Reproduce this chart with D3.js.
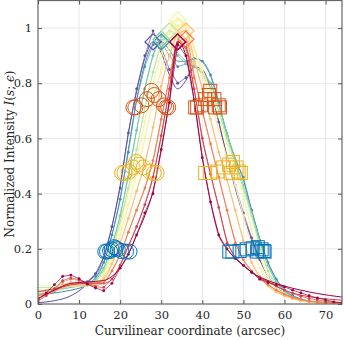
<!DOCTYPE html>
<html>
<head>
<meta charset="utf-8">
<script src="https://cdn.jsdelivr.net/npm/d3@7"></script>
<style>
  body { margin: 0; background: #fff; }
  svg { display: block; font-family: "DejaVu Serif", "Liberation Serif", serif; }
</style>
</head>
<body>
<svg id="chart"></svg>
<script>
// sample positions (arcsec) of the measured profiles
const dataX = [0, 2, 4, 6, 8, 10, 12, 14, 16, 18, 20, 22, 24, 26, 28, 30, 32, 34, 36,
  38, 40, 42, 44, 46, 48, 50, 52, 54, 56, 58, 60, 62, 64, 66, 68, 70, 72, 74]
// positions of the fitted profiles
const fitX = [0, 4, 8, 12, 16, 18, 20, 22, 24, 26, 28, 30, 32, 34, 36, 38, 40, 42,
  44, 46, 48, 50, 52, 56, 60, 64, 68, 74]

// measured profiles, first = earliest (purple) ... last = latest (dark red)
const profiles = [
  [0.03, 0.035, 0.045, 0.06, 0.065, 0.07, 0.08, 0.11, 0.17, 0.28, 0.42, 0.62, 0.78, 0.9, 0.99, 0.93, 0.85, 0.8, 0.82,
    0.86, 0.84, 0.78, 0.66, 0.53, 0.43, 0.33, 0.24, 0.16, 0.1, 0.06, 0.035, 0.02, 0.012, 0.008, 0.005, 0.004, 0.003, 0.002],
  [0.035, 0.04, 0.05, 0.06, 0.07, 0.075, 0.08, 0.1, 0.15, 0.25, 0.38, 0.55, 0.74, 0.86, 0.94, 0.95, 0.9, 0.86, 0.87,
    0.89, 0.88, 0.83, 0.73, 0.61, 0.52, 0.46, 0.34, 0.23, 0.15, 0.09, 0.05, 0.03, 0.018, 0.01, 0.006, 0.004, 0.003, 0.002],
  [0.04, 0.045, 0.055, 0.07, 0.075, 0.072, 0.075, 0.09, 0.13, 0.21, 0.32, 0.46, 0.63, 0.78, 0.9, 0.97, 0.95, 0.9, 0.87,
    0.86, 0.84, 0.8, 0.72, 0.62, 0.52, 0.43, 0.33, 0.22, 0.14, 0.08, 0.045, 0.025, 0.015, 0.009, 0.006, 0.004, 0.003, 0.002],
  [0.05, 0.05, 0.055, 0.065, 0.07, 0.07, 0.07, 0.08, 0.12, 0.2, 0.3, 0.42, 0.56, 0.71, 0.84, 0.94, 0.99, 0.97, 0.92,
    0.87, 0.83, 0.78, 0.7, 0.6, 0.51, 0.42, 0.32, 0.2, 0.12, 0.07, 0.04, 0.022, 0.013, 0.008, 0.005, 0.004, 0.003, 0.002],
  [0.04, 0.045, 0.055, 0.065, 0.07, 0.068, 0.068, 0.075, 0.11, 0.18, 0.28, 0.4, 0.52, 0.66, 0.8, 0.9, 0.98, 1.03, 1.0,
    0.93, 0.85, 0.77, 0.68, 0.58, 0.49, 0.39, 0.27, 0.17, 0.1, 0.06, 0.035, 0.02, 0.012, 0.007, 0.005, 0.003, 0.002, 0.002],
  [0.03, 0.035, 0.05, 0.065, 0.072, 0.07, 0.066, 0.07, 0.1, 0.16, 0.25, 0.36, 0.47, 0.6, 0.74, 0.85, 0.94, 1.01, 1.01,
    0.92, 0.83, 0.74, 0.63, 0.53, 0.43, 0.32, 0.21, 0.13, 0.08, 0.05, 0.03, 0.018, 0.011, 0.007, 0.005, 0.003, 0.002, 0.002],
  [0.02, 0.03, 0.05, 0.07, 0.078, 0.075, 0.068, 0.065, 0.09, 0.145, 0.22, 0.31, 0.41, 0.5, 0.64, 0.79, 0.9, 0.98, 0.99,
    0.88, 0.78, 0.67, 0.55, 0.45, 0.34, 0.23, 0.15, 0.1, 0.065, 0.045, 0.03, 0.02, 0.013, 0.008, 0.005, 0.004, 0.003, 0.002],
  [0.02, 0.035, 0.055, 0.08, 0.09, 0.085, 0.075, 0.065, 0.075, 0.12, 0.18, 0.26, 0.34, 0.42, 0.52, 0.67, 0.82, 0.95, 0.95,
    0.82, 0.7, 0.58, 0.46, 0.34, 0.22, 0.16, 0.12, 0.09, 0.07, 0.05, 0.035, 0.024, 0.016, 0.01, 0.007, 0.005, 0.004, 0.003],
  [0.01, 0.03, 0.055, 0.085, 0.095, 0.088, 0.075, 0.062, 0.06, 0.09, 0.14, 0.21, 0.28, 0.36, 0.46, 0.61, 0.78, 0.94, 0.93,
    0.78, 0.6, 0.47, 0.35, 0.22, 0.17, 0.14, 0.115, 0.095, 0.08, 0.065, 0.05, 0.038, 0.028, 0.02, 0.015, 0.01, 0.007, 0.005],
  [0.015, 0.04, 0.07, 0.1, 0.105, 0.092, 0.072, 0.058, 0.048, 0.075, 0.13, 0.18, 0.25, 0.33, 0.4, 0.56, 0.73, 0.94, 0.9,
    0.74, 0.53, 0.37, 0.25, 0.2, 0.165, 0.14, 0.115, 0.09, 0.078, 0.07, 0.062, 0.05, 0.04, 0.03, 0.022, 0.015, 0.008, 0.004]
]

// fitted profiles, same order
const fits = [
  [0.005, 0.012, 0.03, 0.075, 0.17, 0.28, 0.43, 0.62, 0.77, 0.89, 0.95, 0.91, 0.83, 0.78, 0.81, 0.86, 0.85, 0.78,
    0.66, 0.535, 0.42, 0.32, 0.235, 0.1, 0.035, 0.012, 0.005, 0.002],
  [0.03, 0.04, 0.05, 0.07, 0.15, 0.25, 0.38, 0.56, 0.74, 0.87, 0.94, 0.95, 0.92, 0.88, 0.88, 0.89, 0.88, 0.83,
    0.73, 0.615, 0.53, 0.45, 0.34, 0.15, 0.05, 0.018, 0.007, 0.003],
  [0.045, 0.05, 0.06, 0.07, 0.13, 0.21, 0.32, 0.47, 0.63, 0.78, 0.9, 0.96, 0.95, 0.91, 0.88, 0.86, 0.84, 0.8,
    0.72, 0.62, 0.52, 0.425, 0.33, 0.14, 0.045, 0.015, 0.006, 0.003],
  [0.06, 0.06, 0.065, 0.07, 0.12, 0.2, 0.3, 0.42, 0.56, 0.71, 0.84, 0.94, 0.99, 0.97, 0.92, 0.87, 0.83, 0.78,
    0.7, 0.6, 0.51, 0.42, 0.32, 0.12, 0.04, 0.013, 0.005, 0.002],
  [0.07, 0.065, 0.065, 0.068, 0.11, 0.18, 0.28, 0.4, 0.52, 0.66, 0.8, 0.91, 0.99, 1.03, 1.0, 0.93, 0.85, 0.77,
    0.68, 0.58, 0.49, 0.39, 0.27, 0.1, 0.035, 0.012, 0.005, 0.002],
  [0.05, 0.055, 0.065, 0.066, 0.1, 0.16, 0.25, 0.36, 0.47, 0.6, 0.74, 0.85, 0.94, 1.01, 1.01, 0.93, 0.83, 0.74,
    0.63, 0.53, 0.43, 0.32, 0.21, 0.08, 0.03, 0.011, 0.005, 0.002],
  [0.03, 0.045, 0.065, 0.068, 0.09, 0.145, 0.22, 0.31, 0.41, 0.51, 0.64, 0.79, 0.9, 0.98, 0.99, 0.89, 0.78, 0.67,
    0.55, 0.45, 0.34, 0.23, 0.15, 0.065, 0.03, 0.013, 0.006, 0.003],
  [0.03, 0.05, 0.07, 0.075, 0.08, 0.12, 0.18, 0.26, 0.34, 0.42, 0.52, 0.67, 0.82, 0.95, 0.96, 0.83, 0.7, 0.58,
    0.46, 0.34, 0.23, 0.16, 0.12, 0.07, 0.035, 0.016, 0.008, 0.004],
  [0.045, 0.055, 0.07, 0.075, 0.075, 0.09, 0.14, 0.21, 0.28, 0.36, 0.46, 0.61, 0.78, 0.95, 0.93, 0.78, 0.6, 0.47,
    0.35, 0.23, 0.17, 0.14, 0.115, 0.08, 0.05, 0.032, 0.022, 0.014],
  [0.02, 0.05, 0.075, 0.08, 0.085, 0.1, 0.13, 0.18, 0.25, 0.32, 0.41, 0.56, 0.74, 0.95, 0.9, 0.74, 0.53, 0.37,
    0.25, 0.2, 0.165, 0.14, 0.115, 0.085, 0.065, 0.05, 0.038, 0.025]
]

// fractions of the peak that get a marker, and their colours
const levels = [0.2, 0.5, 0.75]
const levelColors = ["#0072BD", "#EDB120", "#D95319"]

const xTicks = [0, 10, 20, 30, 40, 50, 60, 70]
const yTicks = [0, 0.2, 0.4, 0.6, 0.8, 1]

let chart = d3.select("#chart").attr("width", 344).attr("height", 340)

let x = d3.scaleLinear().domain([0, 74]).range([38, 342])
let y = d3.scaleLinear().domain([0, 1.1]).range([304, 0.5])
let colors = d3.quantize(d3.interpolateSpectral, profiles.length).reverse()

// grid
chart.append("g").selectAll("line").data(xTicks.slice(1)).join("line")
  .attr("x1", d => x(d)).attr("x2", d => x(d))
  .attr("y1", y(0)).attr("y2", y(1.1))
  .attr("stroke", "#e8e8e8")
chart.append("g").selectAll("line").data(yTicks.slice(1)).join("line")
  .attr("x1", x(0)).attr("x2", x(74))
  .attr("y1", d => y(d)).attr("y2", d => y(d))
  .attr("stroke", "#e8e8e8")

chart.append("clipPath").attr("id", "plotArea")
  .append("rect")
  .attr("x", x(0)).attr("y", y(1.1))
  .attr("width", x(74) - x(0)).attr("height", y(0) - y(1.1))

let plot = chart.append("g").attr("clip-path", "url(#plotArea)")

let dataLine = d3.line().x((d, i) => x(dataX[i])).y(d => y(d))
let fitLine = d3.line().x((d, i) => x(fitX[i])).y(d => y(d)).curve(d3.curveMonotoneX)

// profiles: fit, measured line and dots
profiles.forEach((p, s) => {
  let g = plot.append("g")
  g.append("path")
    .attr("d", fitLine(fits[s]))
    .attr("fill", "none")
    .attr("stroke", colors[s])
    .attr("stroke-width", 1)
  g.append("path")
    .attr("d", dataLine(p))
    .attr("fill", "none")
    .attr("stroke", colors[s])
    .attr("stroke-width", 0.7)
  g.selectAll("circle").data(p).join("circle")
    .attr("cx", (d, i) => x(dataX[i]))
    .attr("cy", d => y(d))
    .attr("r", 1.4)
    .attr("fill", colors[s])
})

// peak and level crossings of a fitted profile
function crossings(fit) {
  let iPeak = d3.maxIndex(fit)
  let peak = fit[iPeak]
  let marks = levels.map((f, k) => {
    let level = f * peak
    let i = iPeak
    while (i > 0 && fit[i - 1] >= level) i--
    let xl = fitX[i - 1] + (level - fit[i - 1]) / (fit[i] - fit[i - 1]) * (fitX[i] - fitX[i - 1])
    let j = iPeak
    while (j < fit.length - 1 && fit[j + 1] >= level) j++
    let xr = fitX[j] + (fit[j] - level) / (fit[j] - fit[j + 1]) * (fitX[j + 1] - fitX[j])
    return { k, level, xl, xr }
  })
  return { xPeak: fitX[iPeak], peak, marks }
}

let markers = chart.append("g").attr("fill", "none").attr("stroke-width", 1)
fits.forEach((fit, s) => {
  let c = crossings(fit)
  c.marks.forEach(m => {
    markers.append("circle")
      .attr("cx", x(m.xl)).attr("cy", y(m.level))
      .attr("r", 7.5)
      .attr("stroke", levelColors[m.k])
    markers.append("rect")
      .attr("x", x(m.xr) - 6.5).attr("y", y(m.level) - 6.5)
      .attr("width", 13).attr("height", 13)
      .attr("stroke", levelColors[m.k])
  })
  let px = x(c.xPeak), py = y(c.peak)
  markers.append("path")
    .attr("d", `M${px},${py - 8}L${px + 8},${py}L${px},${py + 8}L${px - 8},${py}Z`)
    .attr("stroke", colors[s])
    .attr("stroke-width", 1.3)
})

// axes, ticks point inwards on all four sides
function styleAxis(g) {
  g.select(".domain").remove()
  g.selectAll(".tick line").attr("stroke", "#555")
  g.selectAll(".tick text")
    .attr("fill", "#262626")
    .style("font-size", "11.5px")
    .style("font-family", "'DejaVu Serif', 'Liberation Serif', serif")
}
chart.append("g")
  .attr("transform", `translate(0,${y(0)})`)
  .call(d3.axisBottom(x).tickValues(xTicks).tickSize(-4).tickPadding(7).tickFormat(d => d))
  .call(styleAxis)
chart.append("g")
  .attr("transform", `translate(0,${y(1.1)})`)
  .call(d3.axisTop(x).tickValues(xTicks).tickSize(-4).tickFormat(""))
  .call(styleAxis)
chart.append("g")
  .attr("transform", `translate(${x(0)},0)`)
  .call(d3.axisLeft(y).tickValues(yTicks).tickSize(-4).tickPadding(6).tickFormat(d => d))
  .call(styleAxis)
chart.append("g")
  .attr("transform", `translate(${x(74)},0)`)
  .call(d3.axisRight(y).tickValues(yTicks).tickSize(-4).tickFormat(""))
  .call(styleAxis)

chart.append("rect")
  .attr("x", x(0)).attr("y", y(1.1))
  .attr("width", x(74) - x(0)).attr("height", y(0) - y(1.1))
  .attr("fill", "none")
  .attr("stroke", "#666")
  .attr("stroke-width", 1.2)

// labels
chart.append("text")
  .attr("x", 190).attr("y", 335)
  .attr("text-anchor", "middle")
  .attr("fill", "#262626")
  .style("font-size", "12px")
  .text("Curvilinear coordinate (arcsec)")

let yLabel = chart.append("text")
  .attr("transform", "translate(14,154) rotate(-90)")
  .attr("text-anchor", "middle")
  .attr("fill", "#262626")
  .style("font-size", "12px")
yLabel.append("tspan").text("Normalized Intensity ")
yLabel.append("tspan").style("font-style", "italic").text("I")
yLabel.append("tspan").text("(")
yLabel.append("tspan").style("font-style", "italic").text("s")
yLabel.append("tspan").text("; ")
yLabel.append("tspan").style("font-style", "italic").text("ϵ")
yLabel.append("tspan").text(")")
</script>
</body>
</html>
